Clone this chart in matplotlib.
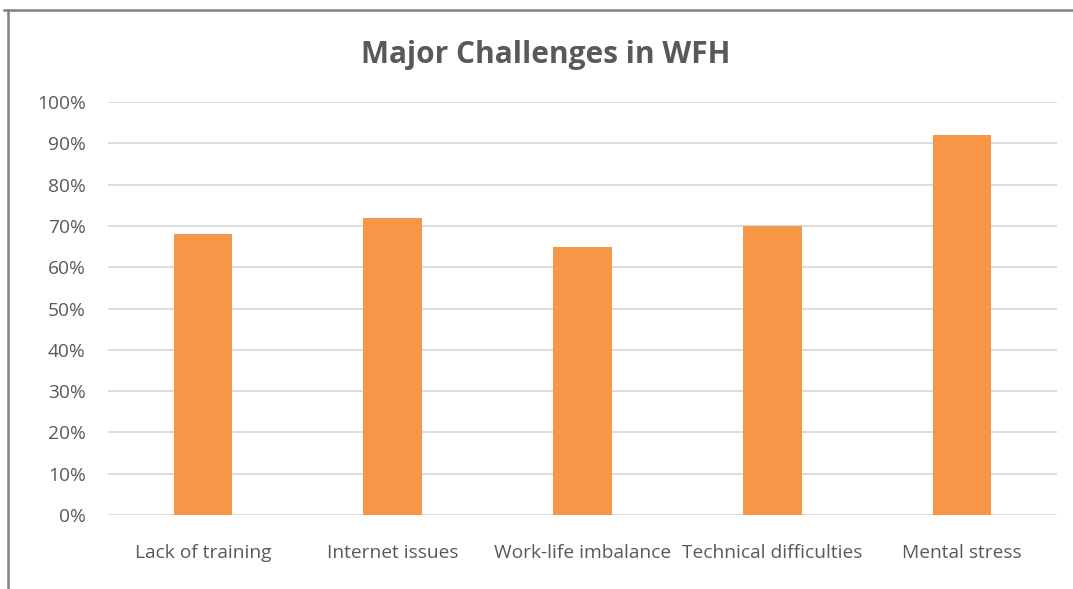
import matplotlib
matplotlib.use('Agg')
import matplotlib.pyplot as plt
from matplotlib.lines import Line2D
from matplotlib.ticker import PercentFormatter

# %% data

categories = ['Lack of training', 'Internet issues', 'Work-life imbalance',
              'Technical difficulties', 'Mental stress']
values = [0.68, 0.72, 0.65, 0.70, 0.92]
yticks = [0.0, 0.1, 0.2, 0.3, 0.4, 0.5, 0.6, 0.7, 0.8, 0.9, 1.0]
title = 'Major Challenges in WFH'

bar_color = '#F79646'
grid_color = '#D9D9D9'
text_color = '#595959'

plt.rcParams['font.family'] = ['Open Sans', 'DejaVu Sans']

# %% plot

fig = plt.figure(figsize=(10.73, 5.89), dpi=100)
ax = fig.add_axes([0.1007, 0.1256, 0.8843, 0.7012])

x = list(range(len(categories)))
ax.bar(x, values, width=0.31, color=bar_color, zorder=3)

ax.set_xlim(-0.5, len(categories) - 0.5)
ax.set_ylim(0, 1)
ax.set_yticks(yticks)
ax.yaxis.set_major_formatter(PercentFormatter(1.0, decimals=0))
ax.set_xticks(x)
ax.set_xticklabels(categories)

ax.grid(axis='y', color=grid_color, linewidth=1.3, zorder=0)
for s in ax.spines.values():
    s.set_visible(False)
ax.tick_params(axis='both', length=0, colors=text_color, labelsize=13.8)
ax.tick_params(axis='y', pad=16)
ax.tick_params(axis='x', pad=21)

fig.text(0.509, 0.907, title, ha='center', va='center', fontsize=21.5,
         fontweight='bold', color=text_color)

# page border seen around the chart
fig.add_artist(Line2D([4 / 1073, 1.0], [1 - 10 / 589, 1 - 10 / 589],
                      transform=fig.transFigure, color='#808080', linewidth=1.8))
fig.add_artist(Line2D([8 / 1073, 8 / 1073], [0.0, 1 - 10 / 589],
                      transform=fig.transFigure, color='#808080', linewidth=1.8))

plt.savefig('out.png', dpi=100)
